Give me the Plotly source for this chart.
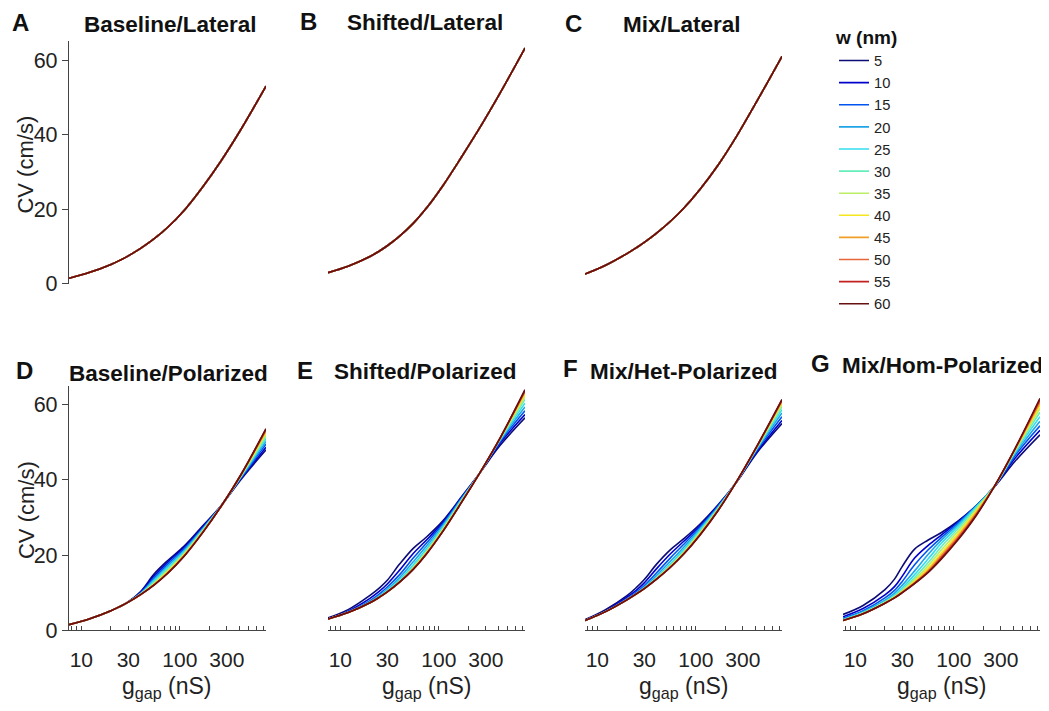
import math
import plotly.graph_objects as go

# ---------------- data ----------------
G_GAP = [7.5, 12, 20, 25, 30, 40, 55, 75, 110, 170, 260, 420, 750]   # nS
W_NM = [5, 10, 15, 20, 25, 30, 35, 40, 45, 50, 55, 60]
W_COLORS = ["#0C0C78", "#0000CC", "#0055F0", "#1FA5E8", "#33DDEE", "#66EEBB",
            "#BBEE66", "#F5E61E", "#F0A028", "#E8643A", "#C42020", "#661010"]

# Lateral panels: all widths give the same curve
CV_BASELINE_LATERAL = [1.5, 3.0, 5.2, 6.4, 7.5, 9.5, 12.1, 15.1, 19.6, 25.9, 32.8, 41.5, 53.0]
CV_SHIFTED_LATERAL = [3.0, 4.7, 7.3, 8.8, 10.2, 12.8, 16.2, 20.3, 26.3, 34.0, 41.8, 51.2, 63.2]
CV_MIX_LATERAL = [2.6, 4.9, 8.1, 9.7, 11.1, 13.6, 16.7, 20.2, 25.3, 32.0, 39.6, 49.1, 61.0]

CV_BASELINE_POLARIZED = {
    5:  [1.5, 3.0, 5.2, 6.4, 7.6, 10.3, 15.0, 18.5, 22.3, 27.7, 33.0, 40.2, 48.0],
    10: [1.5, 3.0, 5.2, 6.4, 7.5, 10.1, 14.5, 18.1, 22.0, 27.4, 33.0, 40.4, 48.7],
    15: [1.5, 3.0, 5.2, 6.4, 7.5, 9.9, 14.0, 17.6, 21.6, 27.1, 32.9, 40.6, 49.5],
    20: [1.5, 3.0, 5.2, 6.4, 7.5, 9.8, 13.6, 17.1, 21.2, 26.9, 32.9, 40.8, 50.2],
    25: [1.5, 3.0, 5.2, 6.4, 7.5, 9.7, 13.2, 16.6, 20.8, 26.7, 32.9, 41.0, 50.9],
    30: [1.5, 3.0, 5.2, 6.4, 7.5, 9.6, 12.8, 16.2, 20.5, 26.5, 32.8, 41.1, 51.5],
    35: [1.5, 3.0, 5.2, 6.4, 7.5, 9.6, 12.5, 15.8, 20.2, 26.3, 32.8, 41.2, 52.1],
    40: [1.5, 3.0, 5.2, 6.4, 7.5, 9.5, 12.3, 15.5, 20.0, 26.1, 32.8, 41.3, 52.6],
    45: [1.5, 3.0, 5.2, 6.4, 7.5, 9.5, 12.2, 15.3, 19.8, 26.0, 32.8, 41.4, 53.0],
    50: [1.5, 3.0, 5.2, 6.4, 7.5, 9.5, 12.1, 15.2, 19.7, 26.0, 32.8, 41.5, 53.3],
    55: [1.5, 3.0, 5.2, 6.4, 7.5, 9.5, 12.1, 15.1, 19.6, 25.9, 32.8, 41.5, 53.5],
    60: [1.5, 3.0, 5.2, 6.4, 7.5, 9.5, 12.1, 15.1, 19.6, 25.9, 32.8, 41.5, 53.6],
}
CV_SHIFTED_POLARIZED = {
    5:  [3.3, 5.5, 9.3, 11.3, 13.3, 17.6, 21.8, 24.8, 29.1, 35.5, 41.8, 49.2, 56.5],
    10: [3.1, 5.1, 8.5, 10.4, 12.3, 16.0, 20.4, 24.0, 28.7, 35.3, 41.8, 49.8, 57.4],
    15: [3.0, 4.9, 7.9, 9.7, 11.5, 14.8, 19.2, 23.2, 28.3, 35.1, 41.8, 50.2, 58.4],
    20: [3.0, 4.8, 7.6, 9.3, 10.9, 14.0, 18.2, 22.4, 27.9, 34.9, 41.8, 50.5, 59.4],
    25: [3.0, 4.7, 7.4, 9.0, 10.6, 13.4, 17.4, 21.7, 27.5, 34.7, 41.8, 50.7, 60.4],
    30: [3.0, 4.7, 7.3, 8.9, 10.4, 13.1, 16.9, 21.1, 27.1, 34.5, 41.8, 50.9, 61.4],
    35: [3.0, 4.7, 7.3, 8.8, 10.3, 12.9, 16.6, 20.8, 26.8, 34.3, 41.8, 51.0, 62.2],
    40: [3.0, 4.7, 7.3, 8.8, 10.2, 12.8, 16.4, 20.6, 26.6, 34.2, 41.8, 51.1, 62.8],
    45: [3.0, 4.7, 7.3, 8.8, 10.2, 12.8, 16.3, 20.4, 26.4, 34.1, 41.8, 51.1, 63.3],
    50: [3.0, 4.7, 7.3, 8.8, 10.2, 12.8, 16.3, 20.4, 26.4, 34.1, 41.8, 51.2, 63.6],
    55: [3.0, 4.7, 7.3, 8.8, 10.2, 12.8, 16.2, 20.3, 26.3, 34.0, 41.8, 51.2, 63.8],
    60: [3.0, 4.7, 7.3, 8.8, 10.2, 12.8, 16.2, 20.3, 26.3, 34.0, 41.8, 51.2, 64.0],
}
CV_MIX_HET_POLARIZED = {
    5:  [2.8, 5.4, 9.2, 11.4, 13.5, 17.6, 21.4, 24.3, 28.2, 33.5, 39.4, 47.3, 55.0],
    10: [2.7, 5.1, 8.8, 10.7, 12.6, 16.4, 20.3, 23.6, 27.8, 33.3, 39.5, 47.6, 55.8],
    15: [2.6, 5.0, 8.4, 10.2, 11.9, 15.3, 19.2, 22.8, 27.4, 33.1, 39.5, 48.0, 56.8],
    20: [2.6, 4.9, 8.2, 9.9, 11.5, 14.6, 18.3, 22.0, 27.0, 32.9, 39.6, 48.3, 57.8],
    25: [2.6, 4.9, 8.1, 9.8, 11.3, 14.1, 17.6, 21.4, 26.6, 32.7, 39.6, 48.5, 58.7],
    30: [2.6, 4.9, 8.1, 9.7, 11.2, 13.9, 17.2, 20.9, 26.2, 32.5, 39.6, 48.7, 59.5],
    35: [2.6, 4.9, 8.1, 9.7, 11.1, 13.8, 17.0, 20.6, 25.9, 32.3, 39.6, 48.8, 60.1],
    40: [2.6, 4.9, 8.1, 9.7, 11.1, 13.7, 16.9, 20.4, 25.6, 32.2, 39.6, 48.9, 60.6],
    45: [2.6, 4.9, 8.1, 9.7, 11.1, 13.7, 16.8, 20.3, 25.5, 32.1, 39.6, 49.0, 60.9],
    50: [2.6, 4.9, 8.1, 9.7, 11.1, 13.6, 16.8, 20.3, 25.4, 32.1, 39.6, 49.0, 61.1],
    55: [2.6, 4.9, 8.1, 9.7, 11.1, 13.6, 16.7, 20.2, 25.3, 32.0, 39.6, 49.1, 61.3],
    60: [2.6, 4.9, 8.1, 9.7, 11.1, 13.6, 16.7, 20.2, 25.3, 32.0, 39.6, 49.1, 61.4],
}
CV_MIX_HOM_POLARIZED = {
    5:  [4.2, 6.6, 10.8, 13.6, 17.0, 21.6, 24.0, 26.0, 29.0, 33.2, 38.2, 45.0, 52.0],
    10: [3.6, 5.8, 9.4, 11.6, 14.4, 19.2, 22.6, 25.4, 28.8, 33.2, 38.3, 45.8, 53.2],
    15: [3.2, 5.2, 8.6, 10.6, 13.0, 17.4, 21.4, 24.7, 28.5, 33.2, 38.3, 46.5, 54.4],
    20: [2.9, 4.9, 8.0, 9.9, 12.0, 15.8, 20.2, 24.0, 28.1, 33.1, 38.4, 47.0, 55.6],
    25: [2.8, 4.7, 7.7, 9.4, 11.3, 14.8, 19.0, 23.2, 27.6, 32.9, 38.4, 47.4, 56.8],
    30: [2.7, 4.6, 7.5, 9.1, 10.8, 14.0, 18.0, 22.3, 27.0, 32.6, 38.4, 47.7, 58.0],
    35: [2.6, 4.5, 7.4, 8.9, 10.5, 13.4, 17.2, 21.4, 26.3, 32.2, 38.4, 47.9, 59.0],
    40: [2.6, 4.4, 7.3, 8.8, 10.3, 13.0, 16.5, 20.6, 25.6, 31.8, 38.4, 48.1, 59.8],
    45: [2.6, 4.4, 7.2, 8.7, 10.2, 12.7, 16.0, 20.0, 25.0, 31.4, 38.4, 48.2, 60.5],
    50: [2.6, 4.4, 7.2, 8.6, 10.1, 12.6, 15.7, 19.6, 24.6, 31.0, 38.4, 48.3, 61.0],
    55: [2.6, 4.4, 7.2, 8.6, 10.0, 12.5, 15.5, 19.3, 24.3, 30.8, 38.4, 48.4, 61.4],
    60: [2.6, 4.4, 7.2, 8.6, 10.0, 12.4, 15.4, 19.0, 24.0, 30.6, 38.4, 48.4, 61.7],
}

PANEL_LETTERS = ["A", "B", "C", "D", "E", "F", "G"]
PANEL_TITLES = ["Baseline/Lateral", "Shifted/Lateral", "Mix/Lateral",
                "Baseline/Polarized", "Shifted/Polarized",
                "Mix/Het-Polarized", "Mix/Hom-Polarized"]
X_TICK_LABELED = [10, 30, 100, 300]
X_TICK_MINOR = [8, 9, 20, 40, 50, 60, 70, 80, 90, 200, 400, 500, 600, 700]
Y_TICK_VALS = [0, 20, 40, 60]
X_RANGE = [7.5, 750]
Y_RANGE = [0, 65]

# ---------------- layout helpers ----------------
PAGE_W, PAGE_H = 1049, 711
BODY_MARGIN = 8                      # default HTML body margin around the plot div
FIG_W, FIG_H = PAGE_W - BODY_MARGIN, PAGE_H - BODY_MARGIN
FONT = "Liberation Sans, Arial, Helvetica, sans-serif"
AXIS_COLOR = "#444444"
TEXT_COLOR = "#222222"


def px_x(p):
    """page pixel x -> paper fraction"""
    return (p - BODY_MARGIN) / FIG_W


def px_y(p):
    """page pixel y (from top) -> paper fraction"""
    return 1 - (p - BODY_MARGIN) / FIG_H


COLS = [(69, 266), (328, 525), (585, 782), (843, 1040)]
ROWS = [(42, 289), (393, 642)]

panel_data = [
    {w: CV_BASELINE_LATERAL for w in W_NM},
    {w: CV_SHIFTED_LATERAL for w in W_NM},
    {w: CV_MIX_LATERAL for w in W_NM},
    CV_BASELINE_POLARIZED,
    CV_SHIFTED_POLARIZED,
    CV_MIX_HET_POLARIZED,
    CV_MIX_HOM_POLARIZED,
]
panel_pos = [(0, 0), (0, 1), (0, 2), (1, 0), (1, 1), (1, 2), (1, 3)]
show_y = [True, False, False, True, False, False, False]

fig = go.Figure()
layout = dict(
    width=FIG_W, height=FIG_H,
    margin=dict(l=0, r=0, t=0, b=0),
    paper_bgcolor="white", plot_bgcolor="white",
    font=dict(family=FONT, color=TEXT_COLOR),
    showlegend=True,
    legend=dict(
        x=px_x(834), y=px_y(20), xanchor="left", yanchor="top",
        bgcolor="rgba(0,0,0,0)", borderwidth=0,
        font=dict(family=FONT, size=14.7, color=TEXT_COLOR),
        title=dict(text="<b>w (nm)</b>", font=dict(family=FONT, size=19, color="#111")),
        tracegroupgap=0,
    ),
)

annotations = []
for i, data in enumerate(panel_data):
    r, c = panel_pos[i]
    k = i + 1
    xa, ya = f"x{k}", f"y{k}"
    for j, w in enumerate(W_NM):
        fig.add_trace(go.Scatter(
            x=G_GAP, y=data[w], mode="lines",
            line=dict(color=W_COLORS[j], width=1.6, shape="spline", smoothing=1.0),
            name=str(w), legendgroup=str(w), showlegend=(i == 0),
            xaxis=xa, yaxis=ya,
        ))
    x0, x1 = COLS[c]
    y0, y1 = ROWS[r]
    xdict = dict(
        type="log", range=[math.log10(X_RANGE[0]), math.log10(X_RANGE[1])],
        domain=[px_x(x0), px_x(x1)], anchor=ya, showgrid=False, zeroline=False,
    )
    if r == 0:
        xdict["visible"] = False
    else:
        xdict.update(
            showline=True, linecolor=AXIS_COLOR, linewidth=1.3,
            ticks="inside", ticklen=4, tickwidth=1, tickcolor=AXIS_COLOR,
            tickmode="array", tickvals=X_TICK_LABELED,
            ticktext=[str(v) for v in X_TICK_LABELED],
            tickfont=dict(family=FONT, size=21, color=TEXT_COLOR),
            ticklabelstandoff=10,
            minor=dict(tickmode="array", tickvals=X_TICK_MINOR, ticks="inside",
                       ticklen=4, tickwidth=1, tickcolor=AXIS_COLOR, showgrid=False),
        )
    ydict = dict(
        range=Y_RANGE, domain=[px_y(y1), px_y(y0)], anchor=xa,
        showgrid=False, zeroline=False,
    )
    if show_y[i]:
        ydict.update(
            showline=True, linecolor=AXIS_COLOR, linewidth=1.3,
            ticks="outside", ticklen=6, tickwidth=1.2, tickcolor=AXIS_COLOR,
            tickmode="array", tickvals=Y_TICK_VALS,
            tickfont=dict(family=FONT, size=21.5, color=TEXT_COLOR),
        )
        annotations.append(dict(
            text="CV (cm/s)", textangle=-90, xref="paper", yref="paper",
            x=px_x(26), y=px_y((y0 + y1) / 2 + 2), xanchor="center", yanchor="middle",
            showarrow=False, font=dict(family=FONT, size=22, color=TEXT_COLOR),
        ))
    else:
        ydict["visible"] = False
    if r == 1:
        annotations.append(dict(
            text="g<sub>gap</sub> (nS)", xref="paper", yref="paper",
            x=px_x((x0 + x1) / 2), y=px_y(684), xanchor="center", yanchor="top",
            showarrow=False, font=dict(family=FONT, size=23, color=TEXT_COLOR),
        ))
    layout[f"xaxis{k}"] = xdict
    layout[f"yaxis{k}"] = ydict

letter_pos = [(20, 23), (308, 22), (573, 24), (24, 377), (305, 377), (570, 375), (820, 370)]
title_pos = [(170, 25), (425, 23), (682, 25), (168, 380), (425, 378), (684, 378), (942, 372)]
for i in range(7):
    lx, ly = letter_pos[i]
    tx, ty = title_pos[i]
    annotations.append(dict(
        text=f"<b>{PANEL_LETTERS[i]}</b>", xref="paper", yref="paper",
        x=px_x(lx), y=px_y(ly), xanchor="center", yanchor="middle", showarrow=False,
        font=dict(family=FONT, size=24, color="#111"),
    ))
    annotations.append(dict(
        text=f"<b>{PANEL_TITLES[i]}</b>", xref="paper", yref="paper",
        x=px_x(tx), y=px_y(ty), xanchor="center", yanchor="middle", showarrow=False,
        font=dict(family=FONT, size=22.5, color="#111"),
    ))

layout["annotations"] = annotations
fig.update_layout(**layout)
fig.write_html("out.html")
